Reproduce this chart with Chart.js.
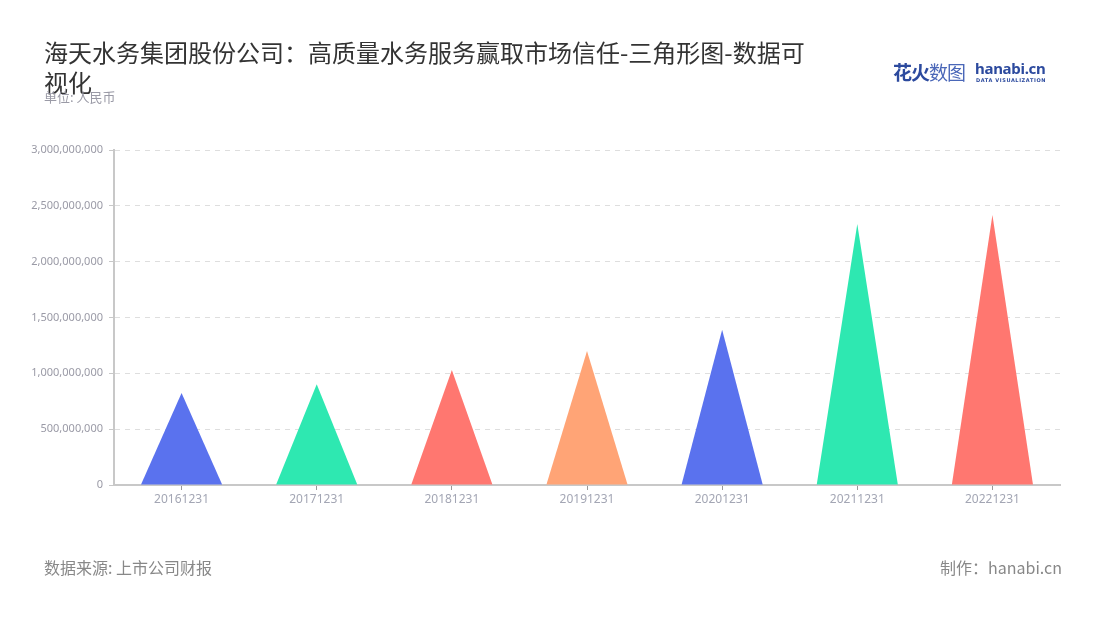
<!DOCTYPE html>
<html>
<head>
<meta charset="utf-8">
<script src="https://cdn.jsdelivr.net/npm/chart.js@4"></script>
<style>
  html, body { margin: 0; padding: 0; background: #fff; }
  body { width: 1100px; height: 620px; position: relative; overflow: hidden;
    font-family: "Noto Sans CJK SC", "Noto Sans", sans-serif; }
  #wrap { position: absolute; left: 0; top: 0; width: 1100px; height: 620px; }
  .title { position: absolute; left: 44px; top: 37px; width: 776px; font-size: 24px;
    line-height: 30px; color: #333; }
  .unit { position: absolute; left: 44px; top: 87px; font-size: 13px; color: #9a9aa6; }
  .logo { position: absolute; left: 893px; top: 58px; height: 30px; }
  .logo .cn { position: absolute; left: 0; top: 0; font-size: 19px; font-weight: bold;
    color: #2c4a9e; letter-spacing: -1px; white-space: nowrap; }
  .logo .cn span { font-weight: normal; color: #4a67b8; }
  .logo .en { position: absolute; left: 82px; top: 0px; font-size: 15px; font-weight: bold;
    color: #2c4a9e; font-family: "Noto Sans", sans-serif; white-space: nowrap; letter-spacing: -0.3px; }
  .logo .sub { position: absolute; left: 83px; top: 19px; font-size: 5px; color: #2c4a9e;
    font-family: "DejaVu Sans", sans-serif; font-weight: bold; white-space: nowrap; letter-spacing: 0.6px; }
  .src { position: absolute; left: 44px; top: 555px; font-size: 16px; color: #888; }
  .made { position: absolute; right: 38px; top: 555px; font-size: 16px; color: #888; }
</style>
</head>
<body>
<div id="wrap"><canvas id="chart" width="1100" height="620"></canvas></div>
<div class="title">海天水务集团股份公司：高质量水务服务赢取市场信任-三角形图-数据可视化</div>
<div class="unit">单位: 人民币</div>
<div class="logo">
  <div class="cn">花火<span>数图</span></div>
  <div class="en">hanabi.cn</div>
  <div class="sub">DATA VISUALIZATION</div>
</div>
<div class="src">数据来源: 上市公司财报</div>
<div class="made">制作：hanabi.cn</div>

<script>
  'use strict';

  // data
  var periods = ['20161231', '20171231', '20181231', '20191231', '20201231', '20211231', '20221231'];
  var revenue = [823000000, 903000000, 1030000000, 1200000000, 1390000000, 2337000000, 2418000000];
  var colors = ['#5a72ee', '#2ee8b1', '#ff7770', '#ffa476', '#5a72ee', '#2ee8b1', '#ff7770'];
  var yTicks = [0, 500000000, 1000000000, 1500000000, 2000000000, 2500000000, 3000000000];

  // draw each bar as a triangle: base on the axis, tip at the value
  var trianglePlugin = {
    id: 'triangles',
    beforeDatasetDraw: function(chart, args) {
      var ctx = chart.ctx;
      var meta = args.meta;
      ctx.save();
      meta.data.forEach(function(bar, i) {
        var p = bar.getProps(['x', 'y', 'base', 'width'], true);
        ctx.fillStyle = colors[i];
        ctx.beginPath();
        ctx.moveTo(p.x - p.width / 2, p.base);
        ctx.lineTo(p.x, p.y);
        ctx.lineTo(p.x + p.width / 2, p.base);
        ctx.closePath();
        ctx.fill();
      });
      ctx.restore();
      return false;
    }
  };

  function formatNumber(v) {
    return String(v).replace(/\B(?=(\d{3})+(?!\d))/g, ',');
  }

  var ctx = document.getElementById('chart').getContext('2d');
  var chart = new Chart(ctx, {
    type: 'bar',
    data: {
      labels: periods,
      datasets: [{
        data: revenue,
        backgroundColor: colors,
        borderWidth: 0,
        barPercentage: 0.6,
        categoryPercentage: 1
      }]
    },
    options: {
      responsive: false,
      animation: false,
      layout: {
        padding: { left: 0, right: 40, top: 150, bottom: 105 }
      },
      plugins: {
        legend: { display: false },
        tooltip: { enabled: false }
      },
      scales: {
        x: {
          grid: {
            drawOnChartArea: false,
            offset: false,
            tickLength: 5,
            tickColor: '#999'
          },
          border: { color: '#c8c8c8', width: 2 },
          ticks: {
            color: '#a3a6b4',
            font: { size: 12, family: 'Noto Sans' },
            padding: 2
          },
          afterFit: function(scale) { scale.height = 30; }
        },
        y: {
          min: 0,
          max: 3000000000,
          afterBuildTicks: function(scale) {
            scale.ticks = yTicks.map(function(v) { return { value: v }; });
          },
          grid: {
            color: '#dedede',
            tickLength: 5,
            tickColor: '#c8c8c8',
            tickBorderDash: [1, 0]
          },
          border: { color: '#c8c8c8', width: 2, dash: [5, 5] },
          ticks: {
            color: '#9a9aa6',
            font: { size: 11, family: 'Noto Sans' },
            padding: 6,
            callback: function(v) { return formatNumber(v); }
          },
          afterFit: function(scale) { scale.width = 114; }
        }
      }
    },
    plugins: [trianglePlugin]
  });
</script>
</body>
</html>
